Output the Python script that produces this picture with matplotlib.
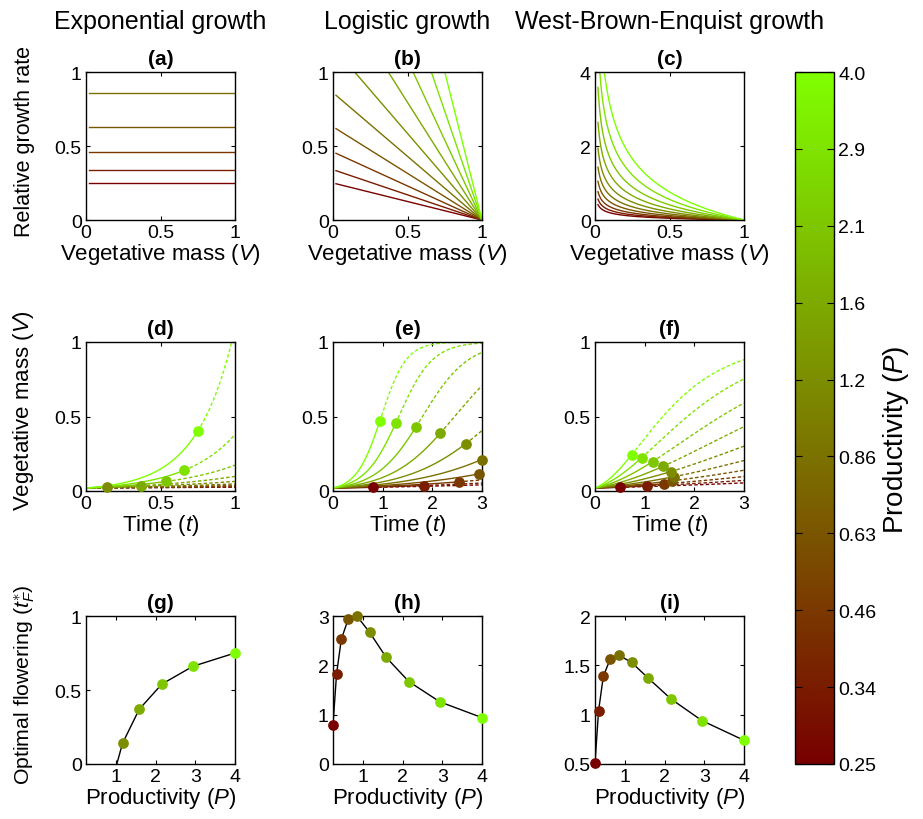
import numpy as np
import matplotlib
matplotlib.use('Agg')
import matplotlib.pyplot as plt
from matplotlib.colors import LinearSegmentedColormap, Normalize
from matplotlib.cm import ScalarMappable

plt.rcParams['font.family'] = ['Liberation Sans', 'DejaVu Sans']
plt.rcParams['mathtext.fontset'] = 'custom'
plt.rcParams['mathtext.rm'] = 'Liberation Sans'
plt.rcParams['mathtext.it'] = 'Liberation Sans:italic'
plt.rcParams['mathtext.bf'] = 'Liberation Sans:bold'

# ---------------- data ----------------
P = [0.25, 0.34, 0.46, 0.63, 0.86, 1.17, 1.59, 2.16, 2.94, 4.0]
P_ticklabels = ['0.25', '0.34', '0.46', '0.63', '0.86', '1.2', '1.6', '2.1', '2.9', '4.0']
tF_exp = [-3.0, -1.94, -1.17, -0.59, -0.16, 0.14, 0.37, 0.54, 0.66, 0.75]
tF_log = [0.80, 1.83, 2.53, 2.93, 2.99, 2.67, 2.16, 1.67, 1.26, 0.94]
tF_wbe = [0.51, 1.04, 1.39, 1.56, 1.60, 1.53, 1.37, 1.16, 0.94, 0.74]
V0 = 0.02
col_titles = ['Exponential growth', 'Logistic growth', 'West-Brown-Enquist growth']

cmap = LinearSegmentedColormap.from_list('prodcmap', [(0.47, 0.0, 0.0), (0.5, 1.0, 0.0)])
n = len(P)
colors = [cmap(i / (n - 1)) for i in range(n)]

# ---------------- models ----------------
def rgr_exp(V, p):
    return p * np.ones_like(V)

def rgr_log(V, p):
    return p * (1 - V)

def rgr_wbe(V, p):
    return p * (V ** -0.25 - 1)

def V_exp(t, p):
    return V0 * np.exp(p * t)

def V_log(t, p):
    return 1.0 / (1 + (1 / V0 - 1) * np.exp(-p * t))

def V_wbe(t, p):
    return (1 - (1 - V0 ** 0.25) * np.exp(-p * t / 4)) ** 4

# ---------------- layout ----------------
fig = plt.figure(figsize=(9.23, 8.2), dpi=100)
W, H = 923.0, 820.0
col_x = [86, 333, 595]
row_y = [(73, 221), (343, 492), (617, 765)]
aw = 149

axes = [[None] * 3 for _ in range(3)]
for r in range(3):
    for c in range(3):
        top, bot = row_y[r]
        axes[r][c] = fig.add_axes([col_x[c] / W, 1 - bot / H, aw / W, (bot - top) / H])

def style(ax, xlim, ylim, xt, yt, xtl=None, ytl=None):
    ax.set_xlim(*xlim)
    ax.set_ylim(*ylim)
    ax.set_xticks(xt)
    ax.set_yticks(yt)
    if xtl is not None:
        ax.set_xticklabels(xtl)
    if ytl is not None:
        ax.set_yticklabels(ytl)
    ax.tick_params(direction='in', length=3, width=0.8, top=True, right=True,
                   labelsize=14, pad=3)
    for s in ax.spines.values():
        s.set_linewidth(1.0)

letters = 'abcdefghi'
V = np.linspace(V0, 1, 400)
lw = 1.0
dash = (0, (2.5, 1.6))
ms = 6.7

# row 1
for c, f in enumerate([rgr_exp, rgr_log, rgr_wbe]):
    ax = axes[0][c]
    for i, p in enumerate(P):
        ax.plot(V, f(V, p), color=colors[i], lw=lw)

style(axes[0][0], (0, 1), (0, 1), [0, 0.5, 1], [0, 0.5, 1], ['0', '0.5', '1'], ['0', '0.5', '1'])
style(axes[0][1], (0, 1), (0, 1), [0, 0.5, 1], [0, 0.5, 1], ['0', '0.5', '1'], ['0', '0.5', '1'])
style(axes[0][2], (0, 1), (0, 4), [0, 0.5, 1], [0, 2, 4], ['0', '0.5', '1'], ['0', '2', '4'])

# row 2
tmax = [1.0, 3.0, 3.0]
for c, (f, tF) in enumerate([(V_exp, tF_exp), (V_log, tF_log), (V_wbe, tF_wbe)]):
    ax = axes[1][c]
    for i, p in enumerate(P):
        tf = tF[i]
        if tf > 0:
            t1 = np.linspace(0, tf, 200)
            t2 = np.linspace(tf, tmax[c], 300)
            ax.plot(t1, f(t1, p), color=colors[i], lw=lw)
            ax.plot(t2, f(t2, p), color=colors[i], lw=lw, ls=dash)
        else:
            t2 = np.linspace(0, tmax[c], 300)
            ax.plot(t2, f(t2, p), color=colors[i], lw=lw, ls=dash)
    for i, p in enumerate(P):
        tf = tF[i]
        if tf > 0:
            ax.plot([tf], [f(np.array(tf), p)], 'o', color=colors[i], ms=ms,
                    mec=colors[i], clip_on=False, zorder=5)

style(axes[1][0], (0, 1), (0, 1), [0, 0.5, 1], [0, 0.5, 1], ['0', '0.5', '1'], ['0', '0.5', '1'])
style(axes[1][1], (0, 3), (0, 1), [0, 1, 2, 3], [0, 0.5, 1], None, ['0', '0.5', '1'])
style(axes[1][2], (0, 3), (0, 1), [0, 1, 2, 3], [0, 0.5, 1], None, ['0', '0.5', '1'])

# row 3
ylims3 = [(0, 1), (0, 3), (0.5, 2)]
for c, tF in enumerate([tF_exp, tF_log, tF_wbe]):
    ax = axes[2][c]
    ax.plot(P, tF, color='black', lw=1.0, zorder=2)
    lo = ylims3[c][0]
    for i, p in enumerate(P):
        if tF[i] >= lo:
            ax.plot([p], [tF[i]], 'o', color=colors[i], mec=colors[i], ms=ms,
                    clip_on=False, zorder=5)

style(axes[2][0], (0.25, 4), (0, 1), [1, 2, 3, 4], [0, 0.5, 1], None, ['0', '0.5', '1'])
style(axes[2][1], (0.25, 4), (0, 3), [1, 2, 3, 4], [0, 1, 2, 3])
style(axes[2][2], (0.25, 4), (0.5, 2), [1, 2, 3, 4], [0.5, 1, 1.5, 2], None, ['0.5', '1', '1.5', '2'])

# titles / labels
for r in range(3):
    for c in range(3):
        axes[r][c].set_title('(' + letters[3 * r + c] + ')', fontsize=15,
                             fontweight='bold', pad=6)

for c in range(3):
    axes[0][c].set_xlabel(r'Vegetative mass ($V$)', fontsize=16, labelpad=0)
    axes[1][c].set_xlabel(r'Time ($t$)', fontsize=16, labelpad=0)
    axes[2][c].set_xlabel(r'Productivity ($P$)', fontsize=16, labelpad=0)

axes[0][0].set_ylabel('Relative growth rate', fontsize=15.5)
axes[1][0].set_ylabel(r'Vegetative mass ($V$)', fontsize=16)
axes[2][0].set_ylabel(r'Optimal flowering ($t_F^{\ast}$)', fontsize=15.3)
axes[0][0].yaxis.set_label_coords(-0.345, 0.534)
axes[1][0].yaxis.set_label_coords(-0.335, 0.55)
axes[2][0].yaxis.set_label_coords(-0.33, 0.54)

for c in range(3):
    xc = (col_x[c] + aw / 2) / W
    fig.text(xc, 1 - 22 / H, col_titles[c], fontsize=18, ha='center', va='center')

# colorbar
cax = fig.add_axes([795 / W, 1 - 765 / H, 39 / W, 692 / H])
sm = ScalarMappable(norm=Normalize(0, n - 1), cmap=cmap)
cb = fig.colorbar(sm, cax=cax, ticks=list(range(n)))
cb.set_ticklabels(P_ticklabels)
cax.tick_params(direction='in', length=5, width=0.8, left=True, right=True,
                labelsize=14, pad=3)
cb.outline.set_linewidth(1.0)
cax.set_ylabel(r'Productivity ($P$)', fontsize=20)
cax.yaxis.set_label_coords(2.2, 0.47)

fig.savefig('out.png', dpi=100)
